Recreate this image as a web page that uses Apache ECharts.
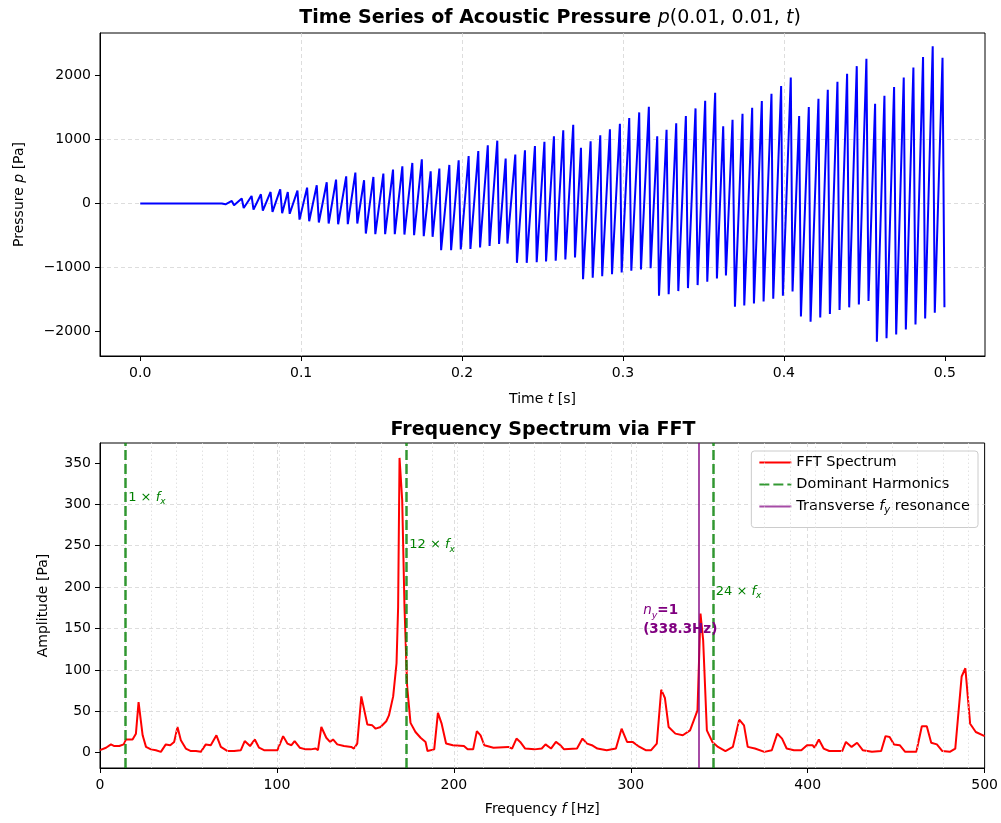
<!DOCTYPE html>
<html>
<head>
<meta charset="utf-8">
<title>Acoustic Pressure</title>
<script src="https://cdn.jsdelivr.net/npm/echarts@6/dist/echarts.min.js"></script>
<style>
  html, body { margin: 0; padding: 0; background: #fff; }
  #chart { width: 1001px; height: 823px; }
</style>
</head>
<body>
<div id="chart"></div>
<script>
// pressure trace p(0.01, 0.01, t): vertices (peaks / troughs)
const timeVals = [
  0, 0.0507, 0.0530,
  0.0569, 0.0583, 0.0631, 0.0643, 0.0692, 0.0704, 0.0750, 0.0762, 0.0810, 0.0822, 0.0870, 0.0882,
  0.0917, 0.0929, 0.0977, 0.0990, 0.1037, 0.1050, 0.1097, 0.1110, 0.1159, 0.1171, 0.1217, 0.1230, 0.1280, 0.1290, 0.1337, 0.1349,
  0.1391, 0.1402, 0.1449, 0.1461, 0.1511, 0.1522, 0.1571, 0.1582, 0.1629, 0.1642, 0.1691, 0.1702, 0.1750, 0.1762,
  0.1805, 0.1817, 0.1859, 0.1870, 0.1921, 0.1932, 0.1979, 0.1992, 0.2041, 0.2052, 0.2101, 0.2112, 0.2160, 0.2171, 0.2219, 0.2230,
  0.2271, 0.2282, 0.2331, 0.2341, 0.2391, 0.2402, 0.2453, 0.2464, 0.2512, 0.2522, 0.2571, 0.2582, 0.2629, 0.2642, 0.2691, 0.2702,
  0.2739, 0.2752, 0.2799, 0.2812, 0.2859, 0.2871, 0.2919, 0.2932, 0.2981, 0.2992, 0.3039, 0.3052, 0.3101, 0.3112, 0.3161, 0.3172,
  0.3213, 0.3224, 0.3271, 0.3284, 0.3331, 0.3344, 0.3391, 0.3404, 0.3451, 0.3464, 0.3511, 0.3524, 0.3573, 0.3584,
  0.3623, 0.3640, 0.3681, 0.3696, 0.3743, 0.3754, 0.3803, 0.3814, 0.3863, 0.3874, 0.3923, 0.3934, 0.3983, 0.3994, 0.4043, 0.4054,
  0.4095, 0.4106, 0.4155, 0.4166, 0.4215, 0.4226, 0.4273, 0.4286, 0.4333, 0.4346, 0.4393, 0.4406, 0.4453, 0.4466, 0.4513, 0.4526,
  0.4567, 0.4578, 0.4625, 0.4638, 0.4685, 0.4698, 0.4745, 0.4758, 0.4805, 0.4818, 0.4865, 0.4878, 0.4925, 0.4938, 0.4986, 0.4998
]
const pressureVals = [
  0, 0, -12,
  41, -27, 78, -69, 119, -94, 145, -109, 181, -130, 223, -151,
  181, -160, 202, -250, 249, -276, 285, -297, 332, -312, 374, -323, 426, -323, 483, -312,
  364, -468, 416, -479, 468, -479, 530, -479, 582, -484, 634, -494, 691, -510,
  504, -520, 546, -728, 603, -728, 676, -718, 743, -708, 821, -687, 910, -661, 983, -630,
  702, -625, 765, -926, 832, -926, 899, -916, 966, -905, 1050, -894, 1144, -874, 1232, -842,
  873, -1181, 972, -1160, 1066, -1134, 1159, -1103, 1248, -1076, 1336, -1051, 1424, -1030, 1513, -1009,
  1050, -1441, 1154, -1415, 1253, -1368, 1367, -1321, 1487, -1274, 1607, -1223, 1731, -1170,
  1206, -1123, 1310, -1613, 1404, -1591, 1498, -1560, 1601, -1529, 1716, -1488, 1835, -1441, 1970, -1373,
  1367, -1763, 1508, -1847, 1638, -1779, 1778, -1727, 1903, -1664, 2028, -1622, 2147, -1576, 2262, -1524,
  1560, -2159, 1685, -2106, 1820, -2044, 1970, -1966, 2126, -1888, 2288, -1794, 2459, -1707, 2278, -1622
]

// FFT amplitude spectrum
const fftFreq = [
  0, 3.4, 6.2, 8.1, 10.9, 13.4, 14.7, 18.4, 20.3, 21.8, 24.1, 26.0, 28.8, 31.6, 34.4, 37.2, 39.7, 41.9, 43.8, 45.7,
  48.5, 51.4, 54.2, 57.0, 59.8, 62.6, 65.8, 68.3, 72.1, 75.8, 79.6, 81.8, 84.8, 87.5, 89.9, 92.7, 96.5, 100.3,
  103.5, 105.9, 108.2, 110.0, 112.9, 116.3, 119.1, 121.9, 123.2, 125.1, 127.9, 130.0, 131.7, 134.1, 137.9, 142.0,
  143.5, 145.4, 147.7, 151.1, 153.9, 155.8, 158.6, 161.8, 163.3, 165.7, 167.6, 168.5, 169.3, 170.8, 172.1, 173.6,
  175.5, 178.3, 181.2, 184.0, 185.1, 188.9, 191.0, 193.1, 195.6, 199.4, 205.7, 207.8, 210.9, 213.0, 215.1, 217.2,
  222.4, 230.8, 232.9, 235.4, 237.5, 240.3, 245.5, 249.7, 251.8, 254.9, 257.7, 260.2, 262.3, 269.6, 272.7, 275.3,
  278.0, 281.1, 286.4, 291.6, 294.8, 297.9, 301.0, 304.2, 308.4, 311.5, 314.7, 317.2, 319.3, 321.4, 325.2, 329.4,
  333.5, 335.6, 337.7, 339.4, 340.9, 343.0, 346.1, 349.3, 353.5, 357.7, 361.3, 364.0, 366.1, 370.2, 375.5, 379.7,
  382.8, 385.5, 388.1, 392.2, 396.4, 399.6, 402.7, 403.8, 406.3, 409.0, 412.2, 419.5, 421.6, 424.8, 427.9, 431.1,
  436.3, 441.5, 444.0, 446.3, 448.8, 452.0, 455.1, 461.4, 464.5, 467.3, 469.8, 473.0, 476.1, 480.3, 483.4, 487.0,
  489.1, 491.8, 495.0, 500.0
]
const fftAmp = [
  3, 6, 10, 8, 8, 10, 16, 16, 23, 61, 21, 7, 4, 3, 1, 10, 9, 13, 31, 15,
  5, 2, 2, 1, 10, 9, 21, 7, 2, 2, 3, 14, 8, 16, 6, 3, 3, 3,
  20, 11, 9, 14, 6, 4, 4, 5, 3, 31, 18, 13, 16, 10, 8, 7,
  5, 11, 68, 34, 33, 29, 31, 38, 45, 68, 108, 176, 356, 305, 176, 80,
  36, 25, 18, 13, 2, 4, 48, 35, 11, 9, 8, 4, 4, 26, 21, 9,
  6, 7, 5, 17, 13, 5, 4, 5, 10, 5, 13, 9, 4, 5, 17, 11,
  9, 5, 3, 5, 29, 13, 13, 8, 3, 3, 11, 76, 66, 31, 23, 21,
  27, 39, 51, 168, 136, 27, 13, 7, 2, 7, 40, 33, 7, 5, 1, 3,
  23, 17, 5, 3, 3, 9, 9, 6, 16, 5, 2, 2, 13, 7, 12, 3,
  1, 2, 20, 19, 10, 9, 1, 1, 32, 32, 12, 10, 2, 1, 5, 92,
  102, 35, 25, 20
]

// harmonic markers
const fx = 14.44
const harmonicOrders = [1, 12, 24]
const harmonicLabelAmp = [308, 251, 195]
const resonanceFreq = 338.3
const resonanceLabel = [307, 160]

// tick labels
const topXTicks = [0, 0.1, 0.2, 0.3, 0.4, 0.5]
const topYTicks = [-2000, -1000, 0, 1000, 2000]
const botXTicks = [0, 100, 200, 300, 400, 500]
const botYTicks = [0, 50, 100, 150, 200, 250, 300, 350]

const FONT = 'DejaVu Sans'
const gridLine = { show: true, showMinLine: false, showMaxLine: false,
  lineStyle: { color: '#d4d4d4', type: [4, 3], width: 0.8 } }
const mathRich = {
  n: { fontFamily: FONT, fontSize: 14, color: '#000' },
  i: { fontFamily: FONT, fontSize: 14, fontStyle: 'italic', color: '#000' }
}

function minusSign (v) {
  return String(v).replace('-', '\u2212')
}

const pressureData = timeVals.map((t, i) => [t, pressureVals[i]])
const fftData = fftFreq.map((f, i) => [f, fftAmp[i]])
const minorLines = []
for (let k = 1; k * fx <= 500; k++) minorLines.push({ xAxis: k * fx })

const green = 'rgba(0, 128, 0, 0.8)'
const greenText = '#008000'
const purpleLine = 'rgba(128, 0, 128, 0.7)'

const harmonicLabels = harmonicOrders.map((h, i) => ({
  value: [h * fx + 1.5, harmonicLabelAmp[i]],
  label: { formatter: '{n|' + h + ' \u00d7 }{i|f}{s|x}' }
}))

const option = {
  animation: false,
  backgroundColor: '#fff',
  textStyle: { fontFamily: FONT },
  title: [
    {
      text: '{b|Time Series of Acoustic Pressure }{i|p}{m|(0.01, 0.01, }{i|t}{m|)}',
      left: 545,
      top: 4,
      textAlign: 'center',
      textStyle: {
        fontWeight: 'normal',
        rich: {
          b: { fontFamily: FONT, fontSize: 19, fontWeight: 'bold', color: '#000' },
          i: { fontFamily: FONT, fontSize: 19, fontWeight: 'normal', fontStyle: 'italic', color: '#000' },
          m: { fontFamily: FONT, fontSize: 19, fontWeight: 'normal', color: '#000' }
        }
      }
    },
    {
      text: 'Frequency Spectrum via FFT',
      left: 538,
      top: 416,
      textAlign: 'center',
      textStyle: { fontFamily: FONT, fontSize: 19, fontWeight: 'bold', color: '#000' }
    }
  ],
  legend: {
    data: ['FFT Spectrum', 'Dominant Harmonics', 'Transverse fy resonance'],
    orient: 'vertical',
    right: 23,
    top: 451,
    padding: [4, 8, 12, 7],
    itemGap: 7,
    itemWidth: 32,
    itemHeight: 14,
    selectedMode: false,
    itemStyle: { opacity: 0 },
    backgroundColor: 'rgba(255,255,255,0.8)',
    borderColor: '#cccccc',
    borderWidth: 1,
    borderRadius: 3,
    formatter: function (name) {
      if (name === 'Transverse fy resonance') return '{n|Transverse }{i|f}{s|y}{n| resonance}'
      return '{n|' + name + '}'
    },
    textStyle: {
      rich: {
        n: { fontFamily: FONT, fontSize: 14.5, color: '#000', lineHeight: 18 },
        i: { fontFamily: FONT, fontSize: 14.5, fontStyle: 'italic', color: '#000', lineHeight: 18 },
        s: { fontFamily: FONT, fontSize: 10, fontStyle: 'italic', color: '#000', verticalAlign: 'bottom', lineHeight: 10 }
      }
    }
  },
  grid: [
    { left: 100, top: 33, width: 885, height: 323, show: true, borderColor: '#000', borderWidth: 1 },
    { left: 100, top: 443, width: 885, height: 325, show: true, borderColor: '#000', borderWidth: 1 }
  ],
  xAxis: [
    {
      gridIndex: 0,
      type: 'value',
      min: -0.025,
      max: 0.525,
      splitNumber: 5,
      name: '{n|Time }{i|t}{n| [s]}',
      nameLocation: 'middle',
      nameGap: 36,
      nameTextStyle: { rich: mathRich },
      axisLine: { onZero: false, lineStyle: { color: '#000' } },
      axisTick: { customValues: topXTicks, length: 5, lineStyle: { color: '#000' } },
      axisLabel: { customValues: topXTicks, color: '#000', fontSize: 14, fontFamily: FONT, margin: 10,
        formatter: v => v.toFixed(1) },
      splitLine: gridLine
    },
    {
      gridIndex: 1,
      type: 'value',
      min: 0,
      max: 500,
      interval: 100,
      name: '{n|Frequency }{i|f}{n| [Hz]}',
      nameLocation: 'middle',
      nameGap: 34,
      nameTextStyle: { rich: mathRich },
      axisLine: { onZero: false, lineStyle: { color: '#000' } },
      axisTick: { customValues: botXTicks, length: 5, lineStyle: { color: '#000' } },
      axisLabel: { customValues: botXTicks, color: '#000', fontSize: 14, fontFamily: FONT, margin: 10 },
      splitLine: gridLine
    }
  ],
  yAxis: [
    {
      gridIndex: 0,
      type: 'value',
      min: -2382,
      max: 2665,
      splitNumber: 5,
      name: '{n|Pressure }{i|p}{n| [Pa]}',
      nameLocation: 'middle',
      nameGap: 74,
      nameTextStyle: { rich: mathRich },
      axisLine: { onZero: false, lineStyle: { color: '#000' } },
      axisTick: { customValues: topYTicks, length: 5, lineStyle: { color: '#000' } },
      axisLabel: { customValues: topYTicks, color: '#000', fontSize: 14, fontFamily: FONT, margin: 9,
        formatter: v => minusSign(v) },
      splitLine: gridLine
    },
    {
      gridIndex: 1,
      type: 'value',
      min: -18.5,
      max: 374,
      splitNumber: 8,
      name: 'Amplitude [Pa]',
      nameLocation: 'middle',
      nameGap: 50,
      nameTextStyle: { fontFamily: FONT, fontSize: 14, color: '#000' },
      axisLine: { onZero: false, lineStyle: { color: '#000' } },
      axisTick: { customValues: botYTicks, length: 5, lineStyle: { color: '#000' } },
      axisLabel: { customValues: botYTicks, color: '#000', fontSize: 14, fontFamily: FONT, margin: 9 },
      splitLine: gridLine
    }
  ],
  series: [
    {
      name: 'Pressure',
      type: 'line',
      xAxisIndex: 0,
      yAxisIndex: 0,
      data: pressureData,
      showSymbol: false,
      symbol: 'none',
      lineStyle: { color: '#0000ff', width: 2 }
    },
    {
      name: 'harmonic grid',
      type: 'line',
      xAxisIndex: 1,
      yAxisIndex: 1,
      data: [],
      markLine: {
        silent: true,
        symbol: 'none',
        label: { show: false },
        lineStyle: { color: '#dadada', type: [1.5, 2.5], width: 0.8 },
        data: minorLines
      }
    },
    {
      name: 'FFT Spectrum',
      type: 'line',
      xAxisIndex: 1,
      yAxisIndex: 1,
      data: fftData,
      showSymbol: false,
      symbol: 'none',
      color: '#ff0000',
      lineStyle: { color: '#ff0000', width: 2 }
    },
    {
      name: 'Dominant Harmonics',
      type: 'line',
      xAxisIndex: 1,
      yAxisIndex: 1,
      data: [],
      symbol: 'none',
      color: green,
      lineStyle: { color: green, width: 2.5, type: [10, 4] },
      markLine: {
        silent: true,
        symbol: 'none',
        label: { show: false },
        lineStyle: { color: green, width: 2.5, type: [10, 4] },
        data: harmonicOrders.map(h => ({ xAxis: h * fx }))
      }
    },
    {
      name: 'Transverse fy resonance',
      type: 'line',
      xAxisIndex: 1,
      yAxisIndex: 1,
      data: [],
      symbol: 'none',
      color: purpleLine,
      lineStyle: { color: purpleLine, width: 2 },
      markLine: {
        silent: true,
        symbol: 'none',
        label: { show: false },
        lineStyle: { color: purpleLine, width: 2, type: 'solid' },
        data: [{ xAxis: resonanceFreq }]
      }
    },
    {
      name: 'harmonic labels',
      type: 'scatter',
      xAxisIndex: 1,
      yAxisIndex: 1,
      symbolSize: 0,
      silent: true,
      itemStyle: { opacity: 1 },
      data: harmonicLabels,
      label: {
        show: true,
        position: 'right',
        distance: 0,
        rich: {
          n: { fontFamily: FONT, fontSize: 13, color: greenText, lineHeight: 18 },
          i: { fontFamily: FONT, fontSize: 13, fontStyle: 'italic', color: greenText, lineHeight: 18 },
          s: { fontFamily: FONT, fontSize: 9, fontStyle: 'italic', color: greenText, verticalAlign: 'bottom', lineHeight: 10 }
        }
      }
    },
    {
      name: 'resonance label',
      type: 'scatter',
      xAxisIndex: 1,
      yAxisIndex: 1,
      symbolSize: 0,
      silent: true,
      z: 5,
      itemStyle: { opacity: 1 },
      data: [resonanceLabel],
      label: {
        show: true,
        position: 'right',
        distance: 0,
        formatter: '{i|n}{s|y}{b|=1}\n{b|(' + resonanceFreq.toFixed(1) + 'Hz)}',
        rich: {
          i: { fontFamily: FONT, fontSize: 13.5, fontStyle: 'italic', color: '#800080', lineHeight: 19 },
          s: { fontFamily: FONT, fontSize: 9.5, fontStyle: 'italic', color: '#800080', verticalAlign: 'bottom', lineHeight: 10 },
          b: { fontFamily: FONT, fontSize: 13.5, fontWeight: 'bold', color: '#800080', lineHeight: 19 }
        }
      }
    }
  ]
}

const myChart = echarts.init(document.getElementById('chart'), null, { renderer: 'canvas' })
myChart.setOption(option)
</script>
</body>
</html>
